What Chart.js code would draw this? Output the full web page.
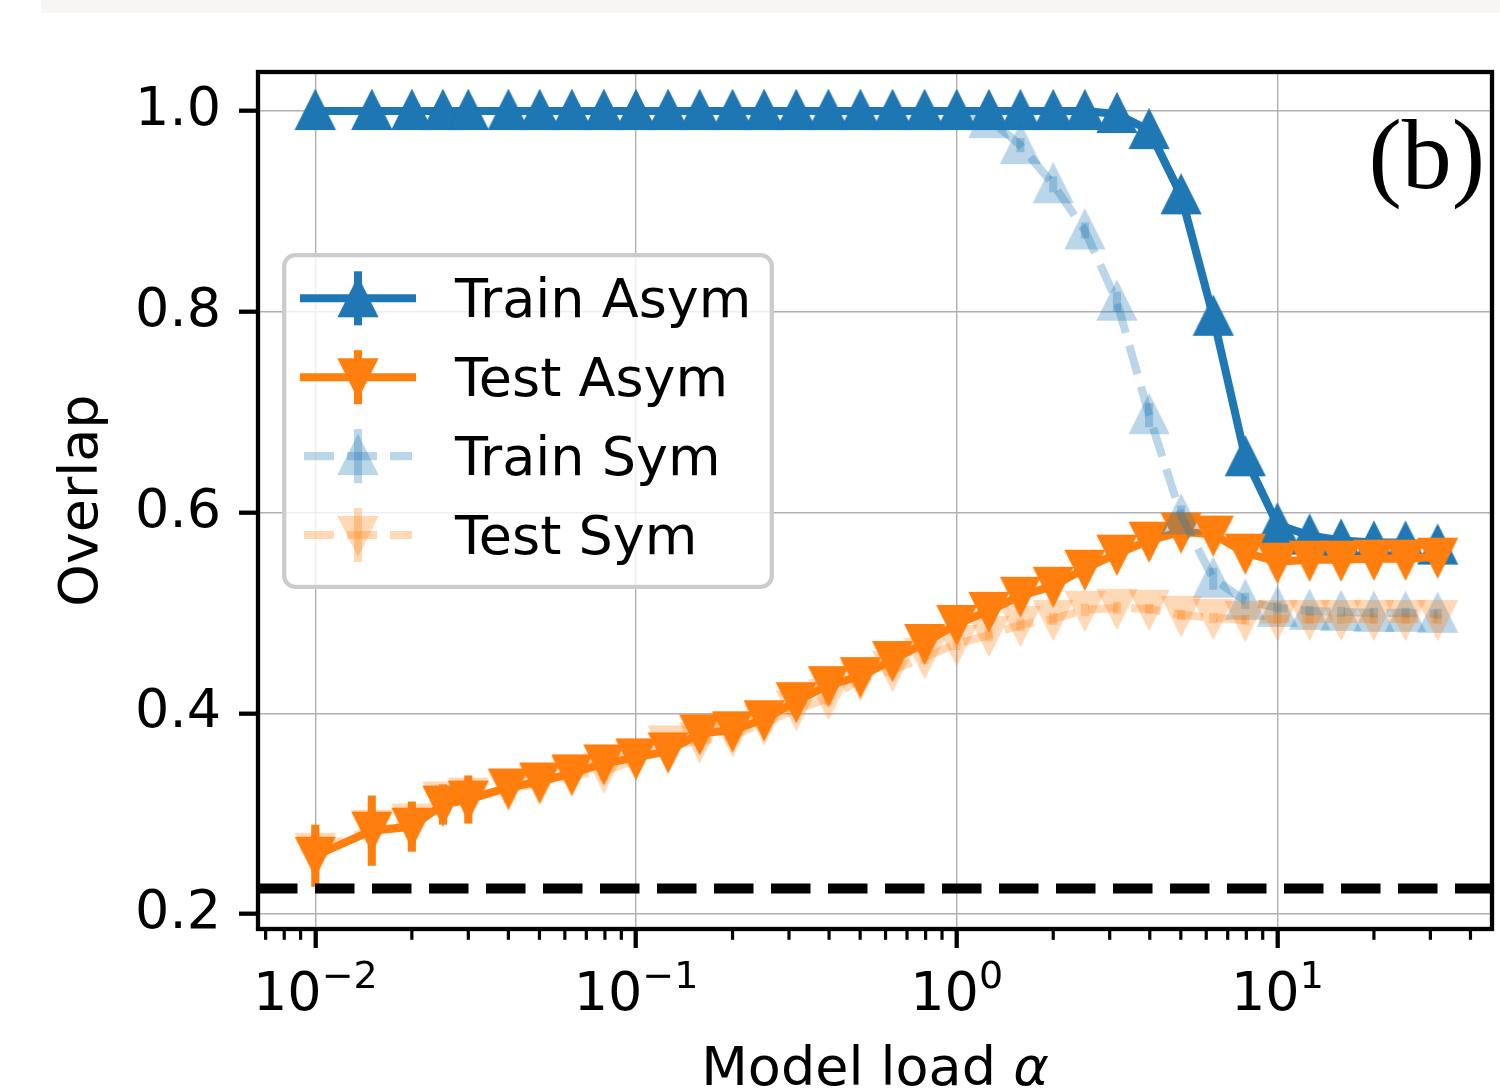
<!DOCTYPE html>
<html>
<head>
<meta charset="utf-8">
<script src="https://cdn.jsdelivr.net/npm/chart.js"></script>
<style>
  html, body { margin: 0; padding: 0; background: #fff; }
  canvas { display: block; }
</style>
</head>
<body>
<canvas id="chart" width="1500" height="1091"></canvas>
<script>
// model load values (x)
var alphaVals = [0.01, 0.015, 0.02, 0.025, 0.03, 0.04, 0.0501, 0.0631, 0.0794, 0.1,
  0.126, 0.158, 0.2, 0.251, 0.316, 0.398, 0.501, 0.631, 0.794, 1.0,
  1.26, 1.58, 2.0, 2.51, 3.16, 3.98, 5.01, 6.31, 7.94, 10.0,
  12.6, 15.8, 20.0, 25.1, 31.6];

var trainAsym = [1.0, 1.0, 1.0, 1.0, 1.0, 1.0, 1.0, 1.0, 1.0, 1.0,
  1.0, 1.0, 1.0, 1.0, 1.0, 1.0, 1.0, 1.0, 1.0, 1.0,
  1.0, 1.0, 1.0, 1.0, 0.997, 0.981, 0.916, 0.795, 0.655, 0.588,
  0.577, 0.572, 0.570, 0.570, 0.567];
var trainAsymErr = [0, 0, 0, 0, 0, 0, 0, 0, 0, 0,
  0, 0, 0, 0, 0, 0, 0, 0, 0, 0,
  0, 0, 0, 0, 0.003, 0.006, 0.010, 0.012, 0.012, 0.008,
  0.005, 0.004, 0.004, 0.004, 0.004];

var testAsym = [0.258, 0.283, 0.287, 0.309, 0.314, 0.326, 0.332, 0.340, 0.350, 0.356,
  0.362, 0.380, 0.383, 0.394, 0.412, 0.428, 0.437, 0.453, 0.470, 0.489,
  0.502, 0.517, 0.527, 0.544, 0.559, 0.572, 0.581, 0.578, 0.560, 0.551,
  0.553, 0.553, 0.554, 0.554, 0.556];
var testAsymErr = [0.031, 0.035, 0.025, 0.020, 0.024, 0.014, 0.012, 0.010, 0.010, 0.009,
  0.009, 0.008, 0.008, 0.007, 0.007, 0.007, 0.006, 0.006, 0.006, 0.006,
  0.006, 0.006, 0.006, 0.006, 0.006, 0.006, 0.006, 0.006, 0.006, 0.005,
  0.005, 0.005, 0.005, 0.005, 0.005];

var trainSym = [1.0, 1.0, 1.0, 1.0, 1.0, 1.0, 1.0, 1.0, 1.0, 1.0,
  1.0, 1.0, 1.0, 1.0, 1.0, 1.0, 1.0, 1.0, 1.0, 1.0,
  0.992, 0.966, 0.927, 0.881, 0.810, 0.697, 0.597, 0.534, 0.512, 0.505,
  0.502, 0.501, 0.500, 0.500, 0.499];
var trainSymErr = [0, 0, 0, 0, 0, 0, 0, 0, 0, 0,
  0, 0, 0, 0, 0, 0, 0, 0, 0, 0.002,
  0.004, 0.007, 0.008, 0.008, 0.010, 0.012, 0.010, 0.011, 0.008, 0.006,
  0.005, 0.005, 0.005, 0.005, 0.005];

var testSym = [0.262, 0.285, 0.291, 0.313, 0.317, 0.325, 0.330, 0.338, 0.342, 0.354,
  0.369, 0.372, 0.378, 0.390, 0.404, 0.415, 0.434, 0.443, 0.456, 0.469,
  0.478, 0.488, 0.494, 0.503, 0.505, 0.504, 0.498, 0.495, 0.493, 0.494,
  0.494, 0.494, 0.494, 0.494, 0.494];
var testSymErr = [0.022, 0.020, 0.018, 0.016, 0.018, 0.012, 0.010, 0.010, 0.009, 0.009,
  0.009, 0.008, 0.008, 0.008, 0.007, 0.007, 0.007, 0.007, 0.007, 0.006,
  0.006, 0.006, 0.006, 0.006, 0.006, 0.005, 0.005, 0.005, 0.005, 0.005,
  0.005, 0.005, 0.005, 0.005, 0.005];

var chanceLevel = 0.2253;

var yTicks = [0.2, 0.4, 0.6, 0.8, 1.0];
var xTicks = [0.01, 0.1, 1, 10];
var xTickExps = ['\u22122', '\u22121', '0', '1'];   // shown as 10^exp

var BLUE = '#1f77b4', ORANGE = '#ff7f0e';
var BLUE_A = 'rgba(31,119,180,0.3)', ORANGE_A = 'rgba(255,127,14,0.3)';
var FONT = '"DejaVu Sans"';
var LW = 8.1;

// matplotlib-like triangle marker (size 6 + edge), drawn once on a small canvas
function marker(color, down) {
  var c = document.createElement('canvas');
  c.width = 48; c.height = 48;
  var g = c.getContext('2d');
  var s = down ? -1 : 1;
  g.fillStyle = color;
  g.beginPath();
  g.moveTo(24, 24 - s * 22.2);
  g.lineTo(24 - 20.6, 24 + s * 18.9);
  g.lineTo(24 + 20.6, 24 + s * 18.9);
  g.closePath();
  g.fill();
  return c;
}

var series = [
  { label: 'Train Asym', vals: trainAsym, err: trainAsymErr, color: BLUE, dash: [], down: false },
  { label: 'Test Asym', vals: testAsym, err: testAsymErr, color: ORANGE, dash: [], down: true },
  { label: 'Train Sym', vals: trainSym, err: trainSymErr, color: BLUE_A, dash: [30, 13], down: false },
  { label: 'Test Sym', vals: testSym, err: testSymErr, color: ORANGE_A, dash: [30, 13], down: true }
];
series.forEach(function (s) { s.marker = marker(s.color, s.down); });

var datasets = series.map(function (s, i) {
  return {
    label: s.label,
    data: alphaVals.map(function (a, j) { return { x: a, y: s.vals[j] }; }),
    borderColor: s.color,
    backgroundColor: s.color,
    borderWidth: LW,
    borderDash: s.dash,
    borderCapStyle: s.dash.length ? 'butt' : 'square',
    borderJoinStyle: 'round',
    tension: 0,
    fill: false,
    pointStyle: s.marker,
    pointRadius: 20,
    pointHoverRadius: 20,
    order: series.length - i   // first series at the bottom, like matplotlib
  };
});

var overlay = {
  id: 'overlay',
  beforeDraw: function (chart) {
    var ctx = chart.ctx;
    ctx.save();
    ctx.fillStyle = '#ffffff';
    ctx.fillRect(0, 0, chart.width, chart.height);
    ctx.fillStyle = '#f7f6f4';
    ctx.fillRect(41, 0, chart.width - 41, 13);
    ctx.restore();
  },
  beforeDatasetsDraw: function (chart) {
    var ctx = chart.ctx, xs = chart.scales.x, ys = chart.scales.y, a = chart.chartArea;
    ctx.save();
    ctx.beginPath();
    ctx.rect(a.left, a.top, a.right - a.left, a.bottom - a.top);
    ctx.clip();
    // error bars (drawn under the data lines)
    series.forEach(function (s) {
      ctx.strokeStyle = s.color;
      ctx.lineWidth = LW;
      ctx.lineCap = 'butt';
      alphaVals.forEach(function (al, j) {
        if (!s.err[j]) return;
        var px = xs.getPixelForValue(al);
        ctx.beginPath();
        ctx.moveTo(px, ys.getPixelForValue(s.vals[j] - s.err[j]));
        ctx.lineTo(px, ys.getPixelForValue(s.vals[j] + s.err[j]));
        ctx.stroke();
      });
    });
    // chance level
    var py = ys.getPixelForValue(chanceLevel);
    ctx.strokeStyle = '#000';
    ctx.lineWidth = 10;
    ctx.setLineDash([39.5, 17.5]);
    ctx.beginPath();
    ctx.moveTo(a.left, py);
    ctx.lineTo(a.right, py);
    ctx.stroke();
    ctx.restore();
  },
  afterDraw: function (chart) {
    var ctx = chart.ctx, xs = chart.scales.x, a = chart.chartArea;
    ctx.save();
    // minor x ticks
    ctx.strokeStyle = '#000';
    ctx.lineWidth = 3.2;
    ctx.lineCap = 'butt';
    for (var e = -3; e <= 1; e++) {
      for (var m = 2; m <= 9; m++) {
        var v = m * Math.pow(10, e);
        if (v < xs.min || v > xs.max) continue;
        var px = xs.getPixelForValue(v);
        ctx.beginPath();
        ctx.moveTo(px, a.bottom);
        ctx.lineTo(px, a.bottom + 10.8);
        ctx.stroke();
      }
    }
    // spines
    ctx.lineWidth = 4.3;
    ctx.lineJoin = 'miter';
    ctx.strokeRect(a.left, a.top, a.right - a.left, a.bottom - a.top);

    // x tick labels as 10 with raised exponent
    ctx.fillStyle = '#000';
    ctx.textBaseline = 'alphabetic';
    ctx.textAlign = 'left';
    xTicks.forEach(function (t, k) {
      ctx.font = '54px ' + FONT;
      var wb = ctx.measureText('10').width;
      ctx.font = '38px ' + FONT;
      var we = ctx.measureText(xTickExps[k]).width;
      var x0 = xs.getPixelForValue(t) - (wb + we) / 2;
      ctx.font = '54px ' + FONT;
      ctx.fillText('10', x0, 1010);
      ctx.font = '38px ' + FONT;
      ctx.fillText(xTickExps[k], x0 + wb, 988);
    });

    // x axis title with italic alpha
    ctx.font = '54px ' + FONT;
    var t1 = 'Model load ';
    var w1 = ctx.measureText(t1).width;
    ctx.font = 'italic 54px ' + FONT;
    var w2 = ctx.measureText('\u03B1').width;
    var x0 = (a.left + a.right) / 2 - (w1 + w2) / 2;
    ctx.font = '54px ' + FONT;
    ctx.fillText(t1, x0, 1085);
    ctx.font = 'italic 54px ' + FONT;
    ctx.fillText('\u03B1', x0 + w1, 1085);

    // legend
    ctx.beginPath();
    ctx.roundRect(284.2, 255.2, 487.6, 331.6, 11);
    ctx.fillStyle = 'rgba(255,255,255,0.8)';
    ctx.fill();
    ctx.lineWidth = 4.3;
    ctx.strokeStyle = '#cccccc';
    ctx.stroke();
    var rows = [298.3, 377.2, 456.1, 535];
    series.forEach(function (s, i) {
      var y = rows[i];
      ctx.strokeStyle = s.color;
      ctx.lineWidth = LW;
      ctx.setLineDash([]);
      ctx.lineCap = 'butt';
      ctx.beginPath();
      ctx.moveTo(358, y - 27);
      ctx.lineTo(358, y + 27);
      ctx.stroke();
      ctx.setLineDash(s.dash);
      ctx.lineCap = s.dash.length ? 'butt' : 'square';
      ctx.beginPath();
      ctx.moveTo(304, y);
      ctx.lineTo(412, y);
      ctx.stroke();
      ctx.setLineDash([]);
      ctx.drawImage(s.marker, 358 - 24, y - 24);
      ctx.fillStyle = '#000';
      ctx.font = '54px ' + FONT;
      ctx.textAlign = 'left';
      ctx.fillText(s.label, 455, y + 18.5);
    });

    // panel letter
    ctx.font = '100px "Liberation Serif"';
    ctx.textAlign = 'right';
    ctx.fillStyle = '#000';
    ctx.fillText('(b)', 1485, 188);
    ctx.restore();
  }
};

Chart.defaults.font.family = FONT;
Chart.defaults.font.size = 54;
Chart.defaults.color = '#000';

var ctx = document.getElementById('chart').getContext('2d');
var myChart = new Chart(ctx, {
  type: 'line',
  data: { datasets: datasets },
  plugins: [overlay],
  options: {
    responsive: false,
    devicePixelRatio: 1,
    animation: false,
    events: [],
    layout: { autoPadding: false, padding: { top: 72, right: 8, left: 0, bottom: 0 } },
    plugins: {
      legend: { display: false },
      tooltip: { enabled: false }
    },
    scales: {
      x: {
        type: 'logarithmic',
        min: 0.006627,
        max: 46.69,
        afterBuildTicks: function (s) { s.ticks = xTicks.map(function (v) { return { value: v, major: true }; }); },
        afterFit: function (s) { s.height = 162; s.paddingLeft = 0; s.paddingRight = 0; },
        border: { display: false },
        grid: { color: '#b0b0b0', lineWidth: 1.4, tickLength: 19, tickWidth: 4.3, tickColor: '#000' },
        ticks: {
          autoSkip: false, maxRotation: 0, padding: 11,
          callback: function () { return ''; }
        }
      },
      y: {
        type: 'linear',
        min: 0.185,
        max: 1.0389,
        afterBuildTicks: function (s) { s.ticks = yTicks.map(function (v) { return { value: v }; }); },
        afterFit: function (s) { s.width = 258; },
        border: { display: false },
        grid: { color: '#b0b0b0', lineWidth: 1.4, tickLength: 19, tickWidth: 4.3, tickColor: '#000' },
        ticks: { padding: 18, callback: function (v) { return Number(v).toFixed(1); } },
        title: { display: true, text: 'Overlap', padding: { top: 51, bottom: 0 } }
      }
    }
  }
});
</script>
</body>
</html>
